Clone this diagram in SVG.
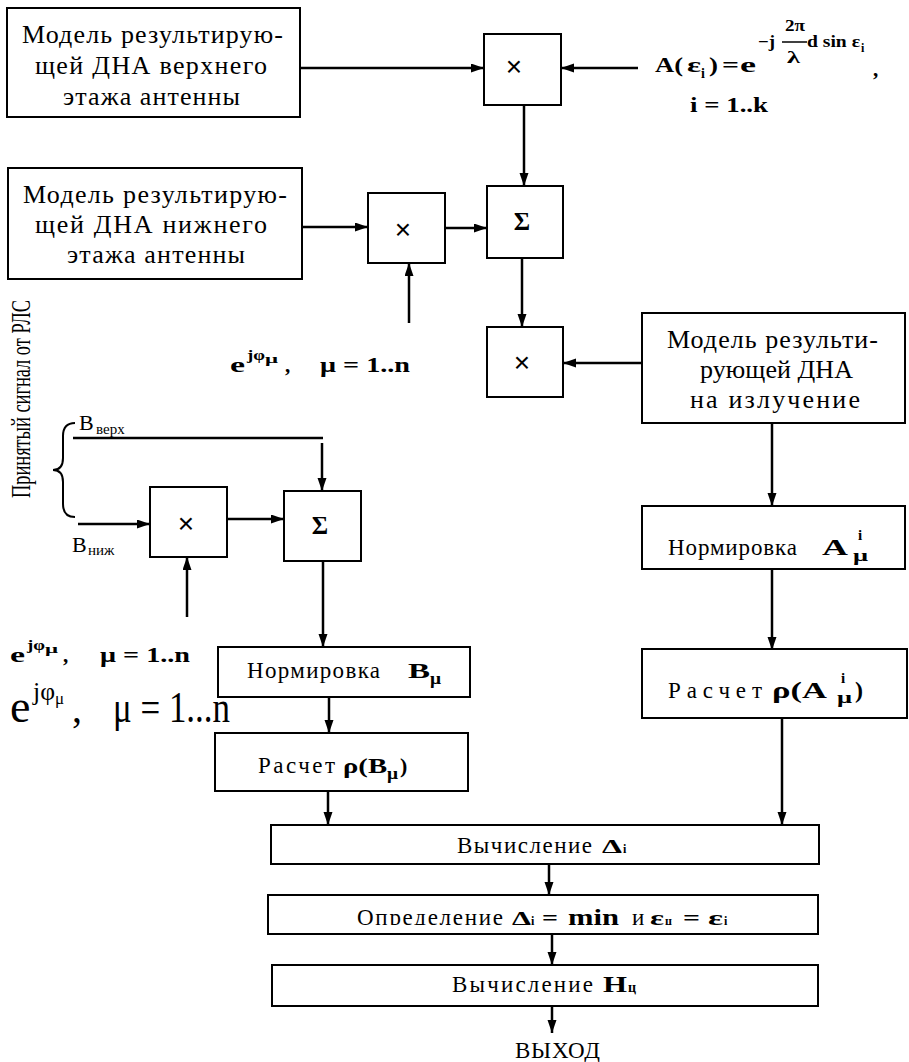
<svg xmlns="http://www.w3.org/2000/svg" width="909" height="1062" viewBox="0 0 909 1062">
<style>
.box{fill:#fff;stroke:#000;stroke-width:2}
.ln{fill:none;stroke:#000;stroke-width:2.5}
.ar{fill:none;stroke:#000;stroke-width:2.5;marker-end:url(#ah)}
.t{font-family:"Liberation Serif","Times New Roman",serif;fill:#000}
.m{font-size:26px}
.r{font-size:23px}
.b{font-family:"Liberation Serif","Times New Roman",serif;font-weight:bold;fill:#000}
.x{font-family:"Liberation Sans",Arial,sans-serif;font-size:28px;text-anchor:middle;fill:#000}
.s{font-family:"Liberation Serif","Times New Roman",serif;font-weight:bold;font-size:25px;text-anchor:middle;fill:#000}
</style>
<defs>
<marker id="ah" markerUnits="userSpaceOnUse" markerWidth="13" markerHeight="10" refX="13" refY="4.5" orient="auto">
<path d="M0,0 L13,4.5 L0,9 z" fill="#000"/>
</marker>
<clipPath id="clipOpr"><rect x="268" y="895" width="550" height="30"/></clipPath>
</defs>

<g id="connectors">
<path class="ar" d="M300,68 H484"/>
<path class="ar" d="M638,68 H561"/>
<path class="ar" d="M524,105 V186"/>
<path class="ar" d="M302,227 H368"/>
<path class="ar" d="M445,228 H487"/>
<path class="ar" d="M409,323 V263"/>
<path class="ar" d="M522,258 V327"/>
<path class="ar" d="M642,363 H563"/>
<path class="ar" d="M772,423 V506"/>
<path class="ar" d="M772,569 V650"/>
<path class="ar" d="M782,718 V825"/>
<path class="ln" d="M73,438 H323"/>
<path class="ar" d="M322,443 V491"/>
<path class="ar" d="M78,524 H150"/>
<path class="ar" d="M227,519 H284"/>
<path class="ar" d="M187,617 V557"/>
<path class="ar" d="M323,561 V647"/>
<path class="ar" d="M329,697 V733"/>
<path class="ar" d="M328,791 V825"/>
<path class="ar" d="M549,864 V895"/>
<path class="ar" d="M552,934 V965"/>
<path class="ar" d="M552,1006 V1033"/>
<path d="M75,423 Q63,423 63,436 L63,458 Q63,470 53,470 Q63,470 63,482 L63,504 Q63,517 75,517" fill="none" stroke="#000" stroke-width="2"/>
</g>

<g id="model-upper">
<rect class="box" x="7" y="8" width="293" height="109"/>
<text class="t m" x="22" y="43" textLength="261" lengthAdjust="spacing">Модель результирую-</text>
<text class="t m" x="35" y="74" textLength="232" lengthAdjust="spacing">щей ДНА верхнего</text>
<text class="t m" x="63" y="105" textLength="177" lengthAdjust="spacing">этажа антенны</text>
</g>

<g id="mult-1">
<rect class="box" x="484" y="34" width="77" height="71"/>
<text class="x" x="514" y="76">×</text>
</g>

<g id="formula-A">
<text class="b" x="655" y="72" font-size="21" textLength="28" lengthAdjust="spacingAndGlyphs">A(</text>
<text class="b" x="687" y="72" font-size="21" textLength="14" lengthAdjust="spacingAndGlyphs">ε</text>
<text class="b" x="701" y="78" font-size="14">i</text>
<text class="b" x="709" y="72" font-size="21" textLength="9" lengthAdjust="spacingAndGlyphs">)</text>
<text class="b" x="722" y="72" font-size="21" textLength="17" lengthAdjust="spacingAndGlyphs">=</text>
<text class="b" x="740" y="72" font-size="21" textLength="16" lengthAdjust="spacingAndGlyphs">e</text>
<text class="b" x="758" y="47" font-size="16" textLength="17" lengthAdjust="spacingAndGlyphs">−j</text>
<text class="b" x="785" y="31" font-size="16" textLength="20" lengthAdjust="spacingAndGlyphs">2π</text>
<path d="M782,42 H807" stroke="#000" stroke-width="1.5"/>
<text class="b" x="787" y="63" font-size="16" textLength="13" lengthAdjust="spacingAndGlyphs">λ</text>
<text class="b" x="807" y="47" font-size="16" textLength="53" lengthAdjust="spacingAndGlyphs">d sin ε</text>
<text class="b" x="861" y="52" font-size="12">i</text>
<text class="b" x="873" y="76" font-size="21">,</text>
<text class="b" x="690" y="112" font-size="21" textLength="78" lengthAdjust="spacingAndGlyphs">i = 1..k</text>
</g>

<g id="model-lower">
<rect class="box" x="8" y="168" width="294" height="111"/>
<text class="t m" x="23" y="203" textLength="264" lengthAdjust="spacing">Модель результирую-</text>
<text class="t m" x="35" y="233" textLength="232" lengthAdjust="spacing">щей ДНА нижнего</text>
<text class="t m" x="67" y="263" textLength="178" lengthAdjust="spacing">этажа антенны</text>
</g>

<g id="mult-2">
<rect class="box" x="368" y="193" width="77" height="70"/>
<text class="x" x="403" y="239">×</text>
</g>

<g id="sum-1">
<rect class="box" x="487" y="186" width="76" height="72"/>
<text class="s" x="522" y="230">Σ</text>
</g>

<g id="label-phase-1">
<text class="b" x="230" y="372" font-size="21" textLength="15" lengthAdjust="spacingAndGlyphs">e</text>
<text class="b" x="247" y="360" font-size="15" textLength="18" lengthAdjust="spacingAndGlyphs">jφ</text>
<text class="b" x="265" y="363" font-size="13" textLength="13" lengthAdjust="spacingAndGlyphs">μ</text>
<text class="b" x="285" y="372" font-size="21">,</text>
<text class="b" x="320" y="372" font-size="20" textLength="90" lengthAdjust="spacingAndGlyphs">μ = 1..n</text>
</g>

<g id="mult-3">
<rect class="box" x="487" y="327" width="76" height="70"/>
<text class="x" x="522" y="372">×</text>
</g>

<g id="model-radiation">
<rect class="box" x="642" y="313" width="263" height="110"/>
<text class="t m" x="667" y="348" textLength="211" lengthAdjust="spacing">Модель результи-</text>
<text class="t m" x="700" y="378" textLength="153" lengthAdjust="spacing">рующей ДНА</text>
<text class="t m" x="690" y="408" textLength="170" lengthAdjust="spacing">на излучение</text>
</g>

<g id="label-received">
<text class="t" transform="translate(30,498) rotate(-90)" x="0" y="0" font-size="27" textLength="198" lengthAdjust="spacingAndGlyphs">Принятый сигнал от РЛС</text>
<text class="t" x="79" y="430" font-size="22">B</text>
<text class="t" x="96" y="434" font-size="15">верх</text>
<text class="t" x="72" y="552" font-size="22">B</text>
<text class="t" x="88" y="555" font-size="15">ниж</text>
</g>

<g id="mult-4">
<rect class="box" x="150" y="487" width="77" height="70"/>
<text class="x" x="186" y="533">×</text>
</g>

<g id="sum-2">
<rect class="box" x="284" y="491" width="77" height="70"/>
<text class="s" x="320" y="534">Σ</text>
</g>

<g id="label-phase-2">
<text class="b" x="10" y="662" font-size="21" textLength="15" lengthAdjust="spacingAndGlyphs">e</text>
<text class="b" x="27" y="650" font-size="15" textLength="18" lengthAdjust="spacingAndGlyphs">jφ</text>
<text class="b" x="45" y="653" font-size="13" textLength="13" lengthAdjust="spacingAndGlyphs">μ</text>
<text class="b" x="63" y="662" font-size="21">,</text>
<text class="b" x="100" y="662" font-size="20" textLength="90" lengthAdjust="spacingAndGlyphs">μ = 1..n</text>
</g>

<g id="label-phase-3">
<text class="t" x="10" y="722" font-size="46">e</text>
<text class="t" x="33" y="700" font-size="26" textLength="22" lengthAdjust="spacingAndGlyphs">jφ</text>
<text class="t" x="55" y="704" font-size="17">μ</text>
<text class="t" x="72" y="722" font-size="40">,</text>
<text class="t" x="113" y="722" font-size="44" textLength="117" lengthAdjust="spacingAndGlyphs">μ = 1...n</text>
</g>

<g id="norm-A">
<rect class="box" x="642" y="506" width="263" height="63"/>
<text class="t r" x="668" y="555" textLength="129" lengthAdjust="spacing">Нормировка</text>
<text class="b" x="822" y="555" font-size="24" textLength="26" lengthAdjust="spacingAndGlyphs">A</text>
<text class="b" x="858" y="540" font-size="15">i</text>
<text class="b" x="853" y="561" font-size="16" textLength="15" lengthAdjust="spacingAndGlyphs">μ</text>
</g>

<g id="calc-A">
<rect class="box" x="642" y="649" width="265" height="69"/>
<text class="t r" x="668" y="698" textLength="94" lengthAdjust="spacing">Расчет</text>
<text class="b" x="772" y="698" font-size="24" textLength="55" lengthAdjust="spacingAndGlyphs">ρ(A</text>
<text class="b" x="841" y="683" font-size="15">i</text>
<text class="b" x="837" y="703" font-size="16" textLength="15" lengthAdjust="spacingAndGlyphs">μ</text>
<text class="b" x="855" y="698" font-size="24">)</text>
</g>

<g id="norm-B">
<rect class="box" x="218" y="647" width="252" height="50"/>
<text class="t r" x="247" y="678" textLength="133" lengthAdjust="spacing">Нормировка</text>
<text class="b" x="408" y="678" font-size="22" textLength="22" lengthAdjust="spacingAndGlyphs">B</text>
<text class="b" x="430" y="684" font-size="16" textLength="11" lengthAdjust="spacingAndGlyphs">μ</text>
</g>

<g id="calc-B">
<rect class="box" x="215" y="733" width="253" height="58"/>
<text class="t r" x="258" y="773" textLength="77" lengthAdjust="spacing">Расчет</text>
<text class="b" x="343" y="773" font-size="22" textLength="44" lengthAdjust="spacingAndGlyphs">ρ(B</text>
<text class="b" x="387" y="779" font-size="16" textLength="11" lengthAdjust="spacingAndGlyphs">μ</text>
<text class="b" x="400" y="773" font-size="22">)</text>
</g>

<g id="calc-delta">
<rect class="box" x="271" y="825" width="548" height="39"/>
<text class="t r" x="457" y="853" textLength="135" lengthAdjust="spacing">Вычисление</text>
<text class="b" x="602" y="853" font-size="19" textLength="20" lengthAdjust="spacingAndGlyphs">Δ</text>
<text class="b" x="623" y="853" font-size="12">i</text>
</g>

<g id="find-min">
<rect class="box" x="268" y="895" width="550" height="39"/>
<g clip-path="url(#clipOpr)">
<text class="t r" x="357" y="925" textLength="146" lengthAdjust="spacing">Определение</text>
<text class="b" x="512" y="925" font-size="19" textLength="19" lengthAdjust="spacingAndGlyphs">Δ</text>
<text class="b" x="531" y="925" font-size="12">i</text>
<text class="b" x="542" y="925" font-size="22" textLength="16" lengthAdjust="spacingAndGlyphs">=</text>
<text class="b" x="568" y="925" font-size="23" textLength="51" lengthAdjust="spacingAndGlyphs">min</text>
<text class="t r" x="632" y="925">и</text>
<text class="b" x="650" y="925" font-size="20" textLength="14" lengthAdjust="spacingAndGlyphs">ε</text>
<text class="b" x="665" y="925" font-size="12">ц</text>
<text class="b" x="683" y="925" font-size="22" textLength="17" lengthAdjust="spacingAndGlyphs">=</text>
<text class="b" x="708" y="925" font-size="20" textLength="15" lengthAdjust="spacingAndGlyphs">ε</text>
<text class="b" x="724" y="925" font-size="12">i</text>
</g>
</g>

<g id="calc-H">
<rect class="box" x="272" y="965" width="546" height="41"/>
<text class="t r" x="452" y="992" textLength="141" lengthAdjust="spacing">Вычисление</text>
<text class="b" x="603" y="992" font-size="23" textLength="24" lengthAdjust="spacingAndGlyphs">H</text>
<text class="b" x="628" y="992" font-size="14">ц</text>
</g>

<g id="output">
<text class="t r" x="515" y="1058" textLength="85" lengthAdjust="spacing">ВЫХОД</text>
</g>
</svg>
